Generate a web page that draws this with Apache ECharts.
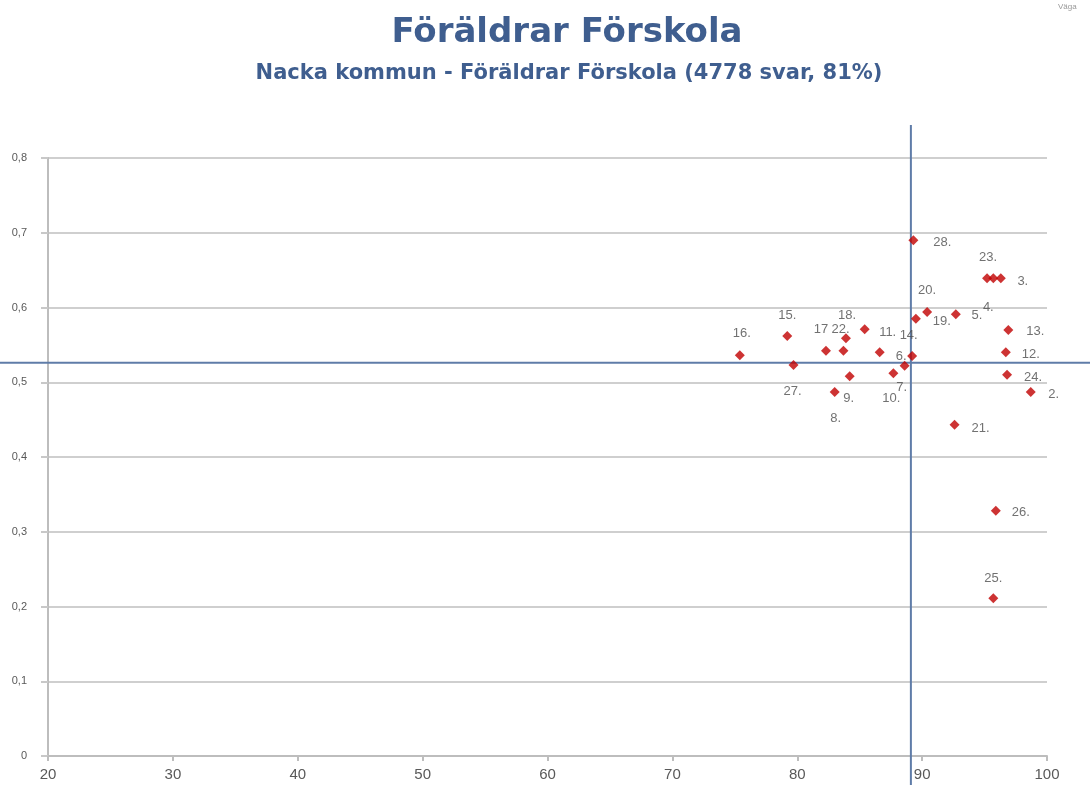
<!DOCTYPE html>
<html>
<head>
<meta charset="utf-8">
<script src="https://cdn.jsdelivr.net/npm/echarts@6/dist/echarts.min.js"></script>
<style>
  body { margin: 0; background: #fff; }
  #chart { width: 1090px; height: 785px; }
</style>
</head>
<body>
<div id="chart"></div>
<script>
// point ids, x = score, y = value
const ids = ["2", "3", "4", "5", "6", "7", "8", "9", "10", "11", "12", "13", "14", "15",
  "16", "17", "18", "19", "20", "21", "22", "23", "24", "25", "26", "27", "28"];
const xVals = [98.7, 96.3, 95.7, 92.7, 89.2, 88.6, 83.0, 84.2, 87.7, 85.4, 96.7, 96.9, 86.6, 79.2,
  75.4, 82.3, 83.9, 89.5, 90.4, 92.6, 83.7, 95.2, 96.8, 95.7, 95.9, 79.7, 89.3];
const yVals = [0.487, 0.639, 0.639, 0.591, 0.535, 0.522, 0.487, 0.508, 0.512, 0.571, 0.540, 0.570, 0.540, 0.562,
  0.536, 0.542, 0.559, 0.585, 0.594, 0.443, 0.542, 0.639, 0.510, 0.211, 0.328, 0.523, 0.690];

// reference (average) lines
const refX = 89.1;
const refY = 0.526;

const xTicks = [20, 30, 40, 50, 60, 70, 80, 90, 100];
const yTicks = [0, 0.1, 0.2, 0.3, 0.4, 0.5, 0.6, 0.7, 0.8];

// label placement around each point (px offsets), styling only
const labelOffset = {
  "2": [23, 2], "3": [22, 3], "4": [-5, 29], "5": [21, 1], "6": [-11, 0], "7": [-3, 22],
  "8": [1, 26], "9": [-1, 22], "10": [-2, 25], "11": [23, 3], "12": [25, 2], "13": [27, 1],
  "14": [29, -17], "15": [0, -20], "16": [2, -22], "17": [-5, -21], "18": [1, -23], "19": [26, 3],
  "20": [0, -22], "21": [26, 4], "22": [-3, -21], "23": [1, -21], "24": [26, 3], "25": [0, -20],
  "26": [25, 2], "27": [-1, 26], "28": [29, 2]
};

const BLUE = "#3f5e8f";
const chart = echarts.init(document.getElementById("chart"), null, { renderer: "canvas" });

const points = ids.map((id, i) => ({
  name: id,
  value: [xVals[i], yVals[i]],
  label: { offset: labelOffset[id], formatter: id === "17" ? "17" : id + "." }
}));

const option = {
  animation: false,
  grid: { left: 48, right: 43, top: 158, bottom: 29 },
  xAxis: {
    type: "value",
    min: xTicks[0],
    max: xTicks[xTicks.length - 1],
    interval: 10,
    splitLine: { show: false },
    axisLine: { lineStyle: { color: "#bdbdbd", width: 2 } },
    axisTick: { show: true, length: 5, lineStyle: { color: "#bdbdbd", width: 2 } },
    axisLabel: { color: "#595959", fontFamily: "Liberation Sans", fontSize: 15, margin: 11 }
  },
  yAxis: {
    type: "value",
    min: yTicks[0],
    max: yTicks[yTicks.length - 1],
    interval: 0.1,
    axisLine: { show: true, lineStyle: { color: "#bdbdbd", width: 2 } },
    axisTick: { show: true, length: 7, lineStyle: { color: "#c8c8c8", width: 2 } },
    splitLine: { lineStyle: { color: "#cfcfcf", width: 2 } },
    axisLabel: {
      color: "#595959", fontFamily: "Liberation Sans", fontSize: 11, margin: 21,
      formatter: v => (v === 0 ? "0" : v.toFixed(1).replace(".", ","))
    }
  },
  series: [{
    type: "scatter",
    symbol: "diamond",
    symbolSize: 10,
    itemStyle: { color: "#c00000" },
    label: {
      show: true,
      position: "inside",
      color: "#4d4d4d",
      fontFamily: "Liberation Sans",
      fontSize: 13
    },
    emphasis: { disabled: true },
    data: points,
    z: 5
  }],
  graphic: [
    {
      id: "title", type: "text", x: 567, y: 33,
      style: { text: "Föräldrar Förskola", fill: BLUE, font: "bold 34px 'DejaVu Sans'", align: "center", verticalAlign: "middle" }
    },
    {
      id: "subtitle", type: "text", x: 569, y: 74,
      style: { text: "Nacka kommun - Föräldrar Förskola (4778 svar, 81%)", fill: BLUE, font: "bold 21px 'DejaVu Sans'", align: "center", verticalAlign: "middle" }
    },
    {
      id: "corner", type: "text", x: 1058, y: 3,
      style: { text: "Väga", fill: "#999", font: "8px 'Liberation Sans'" }
    }
  ]
};

chart.setOption(option);

// crosshair lines through the average point, reaching past the plot area
const c = chart.convertToPixel({ gridIndex: 0 }, [refX, refY]);
chart.setOption({
  graphic: [
    {
      id: "refV", type: "line", z: 4,
      shape: { x1: c[0], y1: 125, x2: c[0], y2: 785 },
      style: { stroke: "#5f7ca8", lineWidth: 2 }
    },
    {
      id: "refH", type: "line", z: 4,
      shape: { x1: 0, y1: c[1], x2: 1090, y2: c[1] },
      style: { stroke: "#5f7ca8", lineWidth: 2 }
    }
  ]
});
</script>
</body>
</html>
